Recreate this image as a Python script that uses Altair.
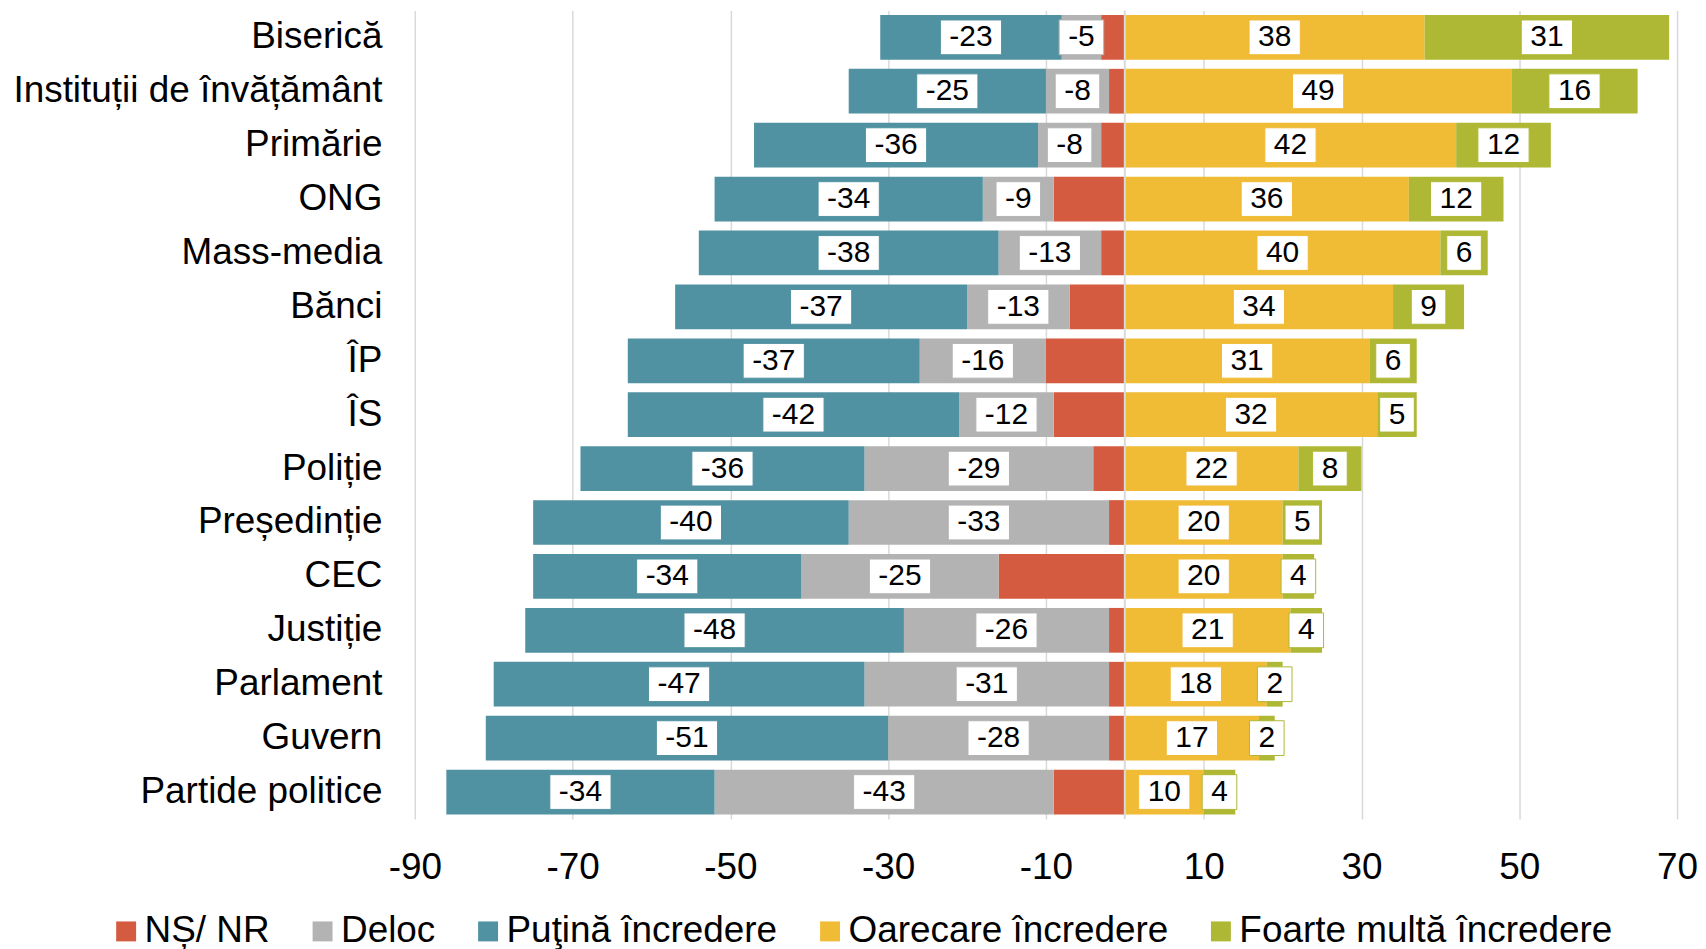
import altair as alt
import pandas as pd

categories = ["Biserică", "Instituții de învățământ", "Primărie", "ONG", "Mass-media",
              "Bănci", "ÎP", "ÎS", "Poliție", "Președinție", "CEC", "Justiție",
              "Parlament", "Guvern", "Partide politice"]
ns_nr = [3, 2, 3, 9, 3, 7, 10, 9, 4, 2, 16, 2, 2, 2, 9]
deloc = [5, 8, 8, 9, 13, 13, 16, 12, 29, 33, 25, 26, 31, 28, 43]
putina = [23, 25, 36, 34, 38, 37, 37, 42, 36, 40, 34, 48, 47, 51, 34]
oarecare = [38, 49, 42, 36, 40, 34, 31, 32, 22, 20, 20, 21, 18, 17, 10]
foarte = [31, 16, 12, 12, 6, 9, 6, 5, 8, 5, 4, 4, 2, 2, 4]

series_names = ["NȘ/ NR", "Deloc", "Puţină încredere", "Oarecare încredere",
                "Foarte multă încredere"]
series_colors = ["#D45B40", "#B3B3B3", "#5092A2", "#F0BB35", "#AEB835"]
x_ticks = [-90, -70, -50, -30, -10, 10, 30, 50, 70]

FONT = "Liberation Sans, Arial, sans-serif"
PLOT_W, PLOT_H = 1266, 811
X_DOMAIN = [-90, 70]
PX_PER_UNIT = PLOT_W / (X_DOMAIN[1] - X_DOMAIN[0])

rows = []
for i, cat in enumerate(categories):
    neg = 0
    for name, vals, shown in [(series_names[0], ns_nr, False),
                              (series_names[1], deloc, True),
                              (series_names[2], putina, True)]:
        v = vals[i]
        rows.append(dict(cat=cat, series=name, x0=-neg, x1=-(neg + v),
                         label=(f"-{v}" if shown else "")))
        neg += v
    pos = 0
    for name, vals in [(series_names[3], oarecare), (series_names[4], foarte)]:
        v = vals[i]
        rows.append(dict(cat=cat, series=name, x0=pos, x1=pos + v, label=str(v)))
        pos += v
df = pd.DataFrame(rows)
df["mid"] = (df["x0"] + df["x1"]) / 2

x_scale = alt.Scale(domain=X_DOMAIN, nice=False, zero=False)
color_scale = alt.Scale(domain=series_names, range=series_colors)
y_enc = alt.Y("cat:N", sort=categories, title=None,
              scale=alt.Scale(paddingInner=0.17, paddingOuter=0.085),
              axis=alt.Axis(domain=False, ticks=False, grid=False, labelFontSize=37,
                            labelFont=FONT, labelColor="#000000", labelPadding=33,
                            labelLimit=1000))

base = alt.Chart(df)

bars = base.mark_bar().encode(
    x=alt.X("x0:Q", scale=x_scale, title=None,
            axis=alt.Axis(values=x_ticks, domain=False, ticks=False, tickSize=0,
                          grid=True, gridColor="#D9D9D9", gridWidth=1.5,
                          labelFontSize=37, labelFont=FONT, labelColor="#000000",
                          labelPadding=31, labelFlush=False,
                          labelExpr="'' + datum.value")),
    x2="x1:Q",
    y=y_enc,
    color=alt.Color("series:N", scale=color_scale,
                    legend=alt.Legend(orient="none", legendX=-308, legendY=905,
                                      direction="horizontal", title=None,
                                      symbolType="square", symbolSize=400,
                                      symbolStrokeWidth=0, labelFontSize=37,
                                      labelFont=FONT, labelColor="#000000",
                                      labelOffset=0, columnPadding=34, padding=0,
                                      labelLimit=1000)),
)

zero_line = alt.Chart(pd.DataFrame({"z": [0]})).mark_rule(
    color="#D9D9D9", strokeWidth=2).encode(x=alt.X("z:Q", title=None))

labelled = base.transform_filter("datum.label != ''")

boxes = labelled.transform_calculate(
    hw=f"(length(datum.label) * 16.7 - (indexof(datum.label, '-') == 0 ? 6.7 : 0) + 18) / {PX_PER_UNIT} / 2"
).transform_calculate(
    lo="datum.mid - datum.hw", hi="datum.mid + datum.hw"
).mark_bar(height={"band": 0.777}, fill="white", strokeWidth=1).encode(
    x=alt.X("lo:Q", title=None),
    x2="hi:Q",
    y=y_enc,
    stroke=alt.Stroke("series:N", scale=color_scale, legend=None),
)

texts = labelled.mark_text(fontSize=30, font=FONT, color="#000000",
                           baseline="middle", align="center").encode(
    x=alt.X("mid:Q", title=None),
    y=y_enc,
    text="label:N",
)

chart = alt.layer(bars, zero_line, boxes, texts).properties(
    width=PLOT_W, height=PLOT_H,
    autosize=alt.AutoSizeParams(type="none"),
    padding={"left": 408, "top": 1, "right": 21, "bottom": 129},
    background="#FFFFFF",
).configure_view(stroke=None)

chart.save("out.html", embed_options={"renderer": "svg", "actions": False})
